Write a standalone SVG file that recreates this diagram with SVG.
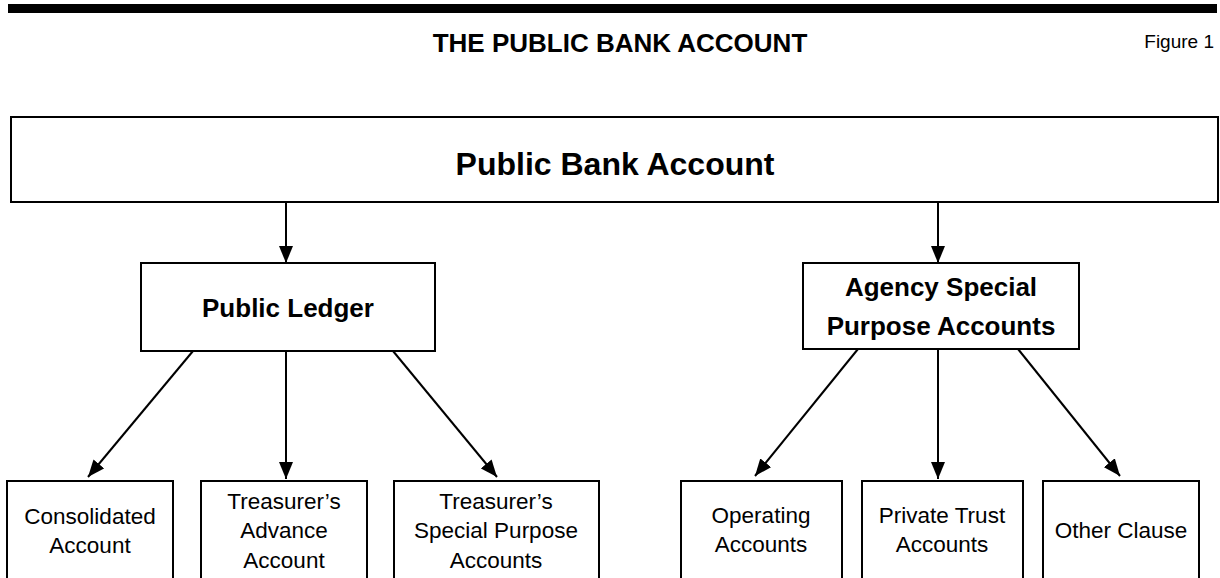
<svg xmlns="http://www.w3.org/2000/svg" width="1220" height="578" viewBox="0 0 1220 578">
  <style>
    .box { fill: #ffffff; stroke: #000000; stroke-width: 2; }
    .conn { stroke: #000000; stroke-width: 2; fill: none; }
    text { font-family: "Liberation Sans", Arial, sans-serif; fill: #000000; text-anchor: middle; }
    .h1 { font-size: 32px; font-weight: bold; }
    .h2 { font-size: 26px; font-weight: bold; }
    .leaf { font-size: 22.5px; }
    .title { font-size: 26px; font-weight: bold; }
    .fig { font-size: 19px; text-anchor: end; }
  </style>
  <defs>
    <marker id="arrow" markerUnits="userSpaceOnUse" markerWidth="18" markerHeight="14" refX="17" refY="7" orient="auto">
      <path d="M0,0 L17,7 L0,14 z" fill="#000000"/>
    </marker>
  </defs>
  <rect width="1220" height="578" fill="#ffffff"/>
  <rect x="8" y="4" width="1209" height="9" fill="#000000"/>
  <text class="title" x="620" y="52">THE PUBLIC BANK ACCOUNT</text>
  <text class="fig" x="1214" y="48">Figure 1</text>

  <g id="connectors">
    <line class="conn" x1="286" y1="203" x2="286" y2="263" marker-end="url(#arrow)"/>
    <line class="conn" x1="938" y1="203" x2="938" y2="263" marker-end="url(#arrow)"/>
    <line class="conn" x1="193" y1="351" x2="88" y2="477" marker-end="url(#arrow)"/>
    <line class="conn" x1="286" y1="351" x2="286" y2="479" marker-end="url(#arrow)"/>
    <line class="conn" x1="393" y1="351" x2="497" y2="477" marker-end="url(#arrow)"/>
    <line class="conn" x1="858" y1="349" x2="755" y2="476" marker-end="url(#arrow)"/>
    <line class="conn" x1="938" y1="349" x2="938" y2="479" marker-end="url(#arrow)"/>
    <line class="conn" x1="1018" y1="349" x2="1120" y2="476" marker-end="url(#arrow)"/>
  </g>

  <g id="public-bank-account">
    <rect class="box" x="11" y="117" width="1207" height="85"/>
    <text class="h1" x="615" y="175">Public Bank Account</text>
  </g>
  <g id="public-ledger">
    <rect class="box" x="141" y="263" width="294" height="88"/>
    <text class="h2" x="288" y="317">Public Ledger</text>
  </g>
  <g id="agency-spa">
    <rect class="box" x="803" y="263" width="276" height="86"/>
    <text class="h2" x="941" y="296">Agency Special</text>
    <text class="h2" x="941" y="335">Purpose Accounts</text>
  </g>
  <g id="consolidated">
    <rect class="box" x="7" y="481" width="166" height="110"/>
    <text class="leaf" x="90" y="524">Consolidated</text>
    <text class="leaf" x="90" y="553">Account</text>
  </g>
  <g id="treasurers-advance">
    <rect class="box" x="201" y="481" width="166" height="110"/>
    <text class="leaf" x="284" y="509">Treasurer’s</text>
    <text class="leaf" x="284" y="538">Advance</text>
    <text class="leaf" x="284" y="568">Account</text>
  </g>
  <g id="treasurers-spa">
    <rect class="box" x="394" y="481" width="205" height="110"/>
    <text class="leaf" x="496" y="509">Treasurer’s</text>
    <text class="leaf" x="496" y="538">Special Purpose</text>
    <text class="leaf" x="496" y="568">Accounts</text>
  </g>
  <g id="operating">
    <rect class="box" x="681" y="481" width="161" height="110"/>
    <text class="leaf" x="761" y="523">Operating</text>
    <text class="leaf" x="761" y="552">Accounts</text>
  </g>
  <g id="private-trust">
    <rect class="box" x="862" y="481" width="161" height="110"/>
    <text class="leaf" x="942" y="523">Private Trust</text>
    <text class="leaf" x="942" y="552">Accounts</text>
  </g>
  <g id="other-clause">
    <rect class="box" x="1043" y="481" width="156" height="110"/>
    <text class="leaf" x="1121" y="538">Other Clause</text>
  </g>
</svg>
